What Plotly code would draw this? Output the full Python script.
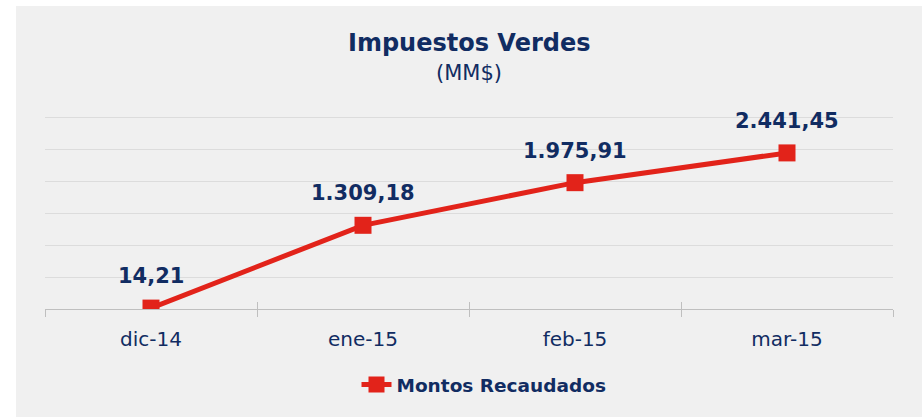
import plotly.graph_objects as go

categories = ["dic-14", "ene-15", "feb-15", "mar-15"]
montos = [14.21, 1309.18, 1975.91, 2441.45]
series_name = "Montos Recaudados"
title_text = "Impuestos Verdes"
subtitle_text = "(MM$)"

NAVY = "#112c62"
RED = "#e2231a"
FONT = "DejaVu Sans"

PLOT_TOP, PLOT_BOTTOM = 114, 309
PH = PLOT_BOTTOM - PLOT_TOP


def py(pix):
    return (PLOT_BOTTOM - pix) / PH


def fmt_es(v):
    s = f"{v:,.2f}"
    return s.replace(",", "X").replace(".", ",").replace("X", ".")


fig = go.Figure()
fig.add_trace(go.Scatter(
    x=categories, y=montos, mode="lines+markers", name=f"<b>{series_name}</b>",
    line=dict(color=RED, width=5),
    marker=dict(symbol="square", size=17, color=RED),
    hoverinfo="skip",
))
# invisible helper trace for the upper half of the crossing tick marks
fig.add_trace(go.Scatter(
    x=categories, y=montos, xaxis="x2", mode="lines",
    line=dict(color="rgba(0,0,0,0)"), showlegend=False, hoverinfo="skip",
))

for c, v in zip(categories, montos):
    fig.add_annotation(x=c, y=v, text=f"<b>{fmt_es(v)}</b>", showarrow=False,
                       yshift=32, font=dict(family=FONT, size=21, color=NAVY))

fig.add_annotation(x=0.5, xref="paper", y=py(43), yref="paper",
                   text=f"<b>{title_text}</b>", showarrow=False, yanchor="middle",
                   font=dict(family=FONT, size=24, color=NAVY))
fig.add_annotation(x=0.5, xref="paper", y=py(73), yref="paper",
                   text=subtitle_text, showarrow=False, yanchor="middle",
                   font=dict(family=FONT, size=21, color=NAVY))

# white outer strips (left/top)
fig.add_shape(type="rect", xref="paper", yref="paper", x0=-0.06, x1=(16 - 45) / 848,
              y0=-0.7, y1=1.8, fillcolor="white", line=dict(width=0))
fig.add_shape(type="rect", xref="paper", yref="paper", x0=-0.06, x1=1.1,
              y0=py(6), y1=1.8, fillcolor="white", line=dict(width=0))

fig.update_layout(
    width=922, height=417,
    margin=dict(l=45, r=29, t=PLOT_TOP, b=417 - PLOT_BOTTOM),
    paper_bgcolor="#f0f0f0", plot_bgcolor="#f0f0f0",
    font=dict(family=FONT, color=NAVY),
    xaxis=dict(type="category", categoryorder="array", categoryarray=categories,
               range=[-0.5, 3.5], tickson="boundaries", ticks="outside", ticklen=7,
               tickcolor="#bfbfbf", showline=True, linecolor="#bfbfbf", linewidth=1,
               showgrid=False, tickfont=dict(family=FONT, size=20, color=NAVY),
               ticklabelstandoff=12, fixedrange=True),
    xaxis2=dict(type="category", overlaying="x", anchor="y", side="bottom",
                categoryorder="array", categoryarray=categories,
                range=[-0.5, 3.5], tickson="boundaries", ticks="inside", ticklen=7,
                tickcolor="#bfbfbf", showticklabels=False, showgrid=False,
                showline=False),
    yaxis=dict(range=[0, 3050], dtick=500, tick0=0, showticklabels=False, showgrid=True,
               gridcolor="#dcdcdc", gridwidth=1, zeroline=False, ticks="",
               fixedrange=True),
    legend=dict(orientation="h", x=0.5 + 15 / 848, xanchor="center", y=py(385),
                yanchor="middle", font=dict(family=FONT, size=18.5, color=NAVY),
                bgcolor="rgba(0,0,0,0)"),
    showlegend=True,
)

fig.write_html(
    "out.html",
    config={"displayModeBar": False},
    post_script="document.body.style.margin='0';document.body.style.overflow='hidden';",
)
